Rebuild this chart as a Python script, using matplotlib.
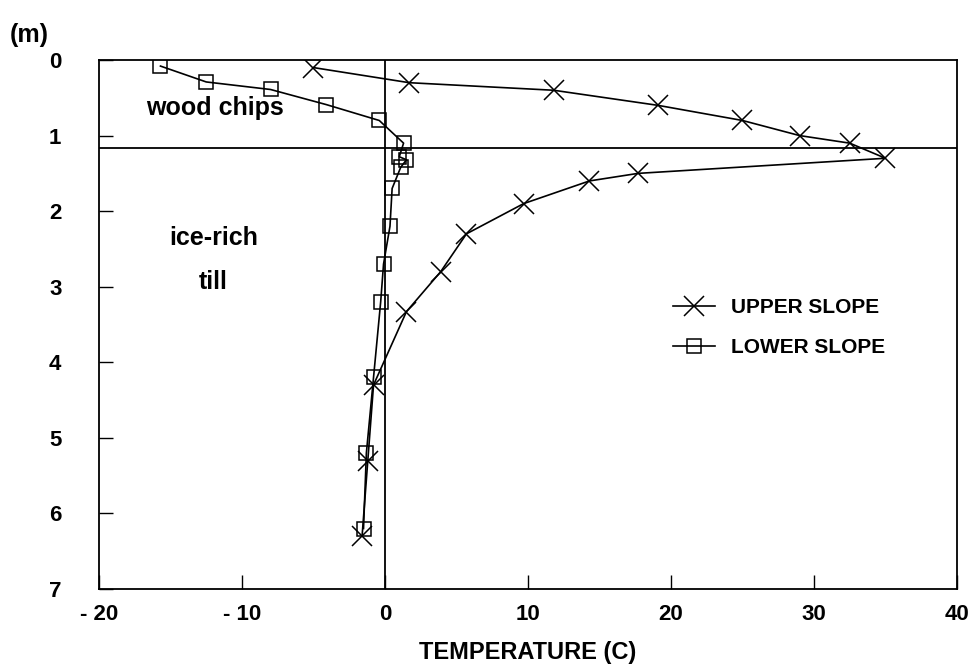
import matplotlib
matplotlib.use('Agg')
import matplotlib.pyplot as plt

plt.rcParams['font.family'] = ['Liberation Sans', 'DejaVu Sans']
plt.rcParams['font.weight'] = 'bold'
plt.rcParams['axes.labelweight'] = 'bold'

## Data: temperature (C) vs depth (m)
upper_temp = [-5.0, 1.7, 11.8, 19.1, 25.0, 29.0, 32.5, 35.0, 17.7, 14.3,
              9.7, 5.7, 3.9, 1.5, -0.8, -1.2, -1.6]
upper_depth = [0.1, 0.3, 0.4, 0.6, 0.8, 1.0, 1.1, 1.3, 1.5, 1.6,
               1.9, 2.3, 2.8, 3.33, 4.3, 5.3, 6.3]

lower_temp = [-15.7, -12.5, -8.0, -4.1, -0.4, 1.3, 1.0, 1.5, 1.1, 0.5,
              0.35, -0.1, -0.3, -0.8, -1.3, -1.5]
lower_depth = [0.08, 0.29, 0.39, 0.59, 0.8, 1.1, 1.28, 1.32, 1.42, 1.7,
               2.2, 2.7, 3.2, 4.2, 5.2, 6.2]

contact_depth = 1.17
x_ticks = [-20, -10, 0, 10, 20, 30, 40]
x_tick_labels = ['- 20', '- 10', '0', '10', '20', '30', '40']
y_ticks = [0, 1, 2, 3, 4, 5, 6, 7]

fig = plt.figure(figsize=(9.78, 6.67), dpi=100)
ax = fig.add_axes([0.1012, 0.117, 0.8773, 0.793])

## Reference lines
ax.axvline(0, color='black', lw=1.3, zorder=1)
ax.axhline(contact_depth, color='black', lw=1.3, zorder=1)

## Profiles
ax.plot(upper_temp, upper_depth, color='black', lw=1.2, marker='x',
        markersize=14, markeredgewidth=1.1, label='UPPER SLOPE')
ax.plot(lower_temp, lower_depth, color='black', lw=1.2, marker='s',
        markersize=10, markerfacecolor='none', markeredgewidth=1.1,
        label='LOWER SLOPE')

## Axes range
ax.set_xlim(-20, 40)
ax.set_ylim(7, 0)

ax.set_xticks(x_ticks)
ax.set_xticklabels(x_tick_labels)
ax.set_yticks(y_ticks)
ax.tick_params(direction='in', length=10, width=1, labelsize=16,
               top=False, right=False)
ax.tick_params(axis='x', pad=11)
ax.tick_params(axis='y', pad=27)
for s in ax.spines.values():
    s.set_linewidth(1.3)

ax.set_xlabel('TEMPERATURE (C)', fontsize=17, labelpad=11)
fig.text(0.010, 0.948, '(m)', fontsize=18, ha='left', va='center')

## Layer labels
ax.text(-11.9, 0.63, 'wood chips', fontsize=18, ha='center', va='center')
ax.text(-12.0, 2.36, 'ice-rich', fontsize=18, ha='center', va='center')
ax.text(-12.0, 2.94, 'till', fontsize=18, ha='center', va='center')

ax.legend(loc='upper left', bbox_to_anchor=(0.647, 0.585), frameon=False,
          handlelength=2.0, handletextpad=0.8, labelspacing=1.0,
          prop={'weight': 'bold', 'size': 15})

plt.savefig('out.png')
